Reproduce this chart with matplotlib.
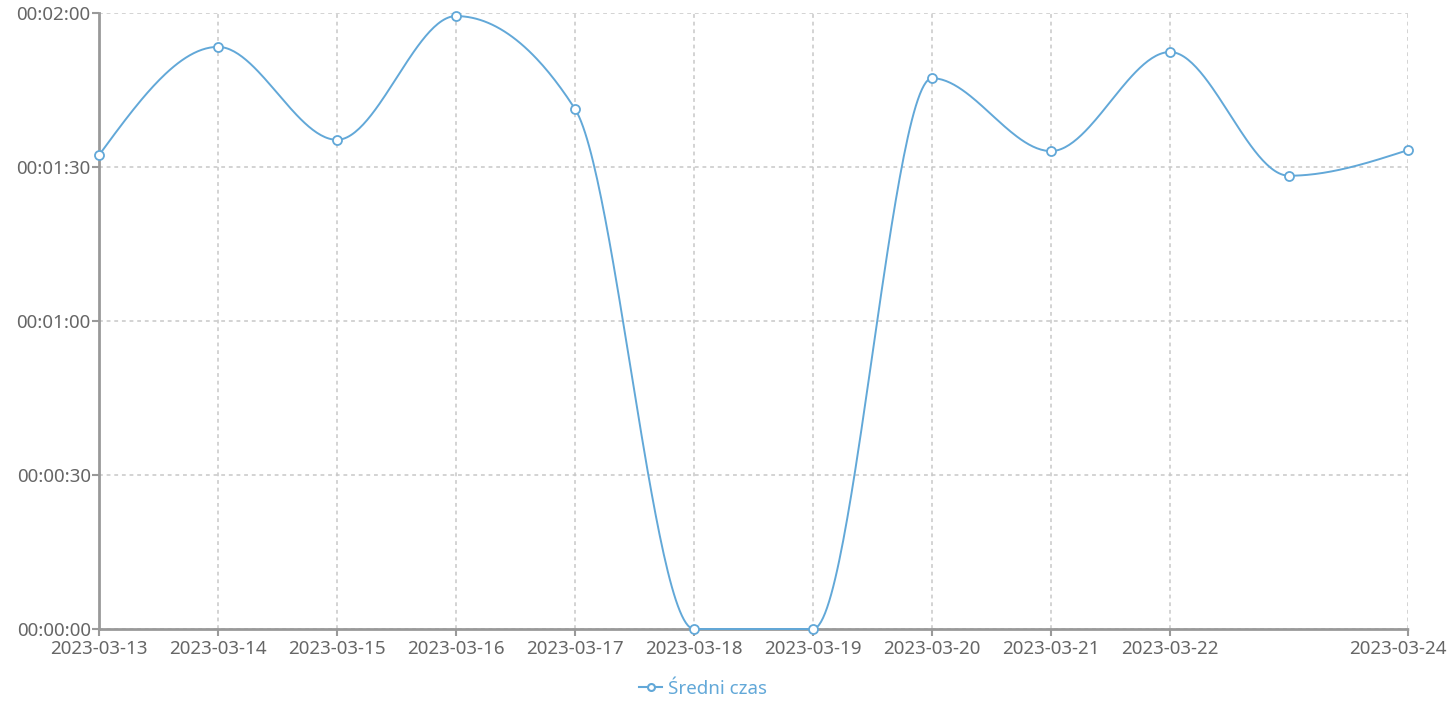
import numpy as np
import matplotlib
matplotlib.use('Agg')
import matplotlib.pyplot as plt
import matplotlib.transforms as mtransforms
from matplotlib.lines import Line2D
from matplotlib.ticker import FuncFormatter

# Dane: średni czas (sekundy) dla każdego dnia
dni = ['2023-03-13', '2023-03-14', '2023-03-15', '2023-03-16', '2023-03-17', '2023-03-18',
       '2023-03-19', '2023-03-20', '2023-03-21', '2023-03-22', '2023-03-23', '2023-03-24']
sredni_czas = [92.3, 113.4, 95.3, 119.4, 101.3, 0, 0, 107.3, 93.1, 112.4, 88.3, 93.3]
# etykiety osi X (bez 03-23, jak w oryginale)
etykiety_x = ['2023-03-13', '2023-03-14', '2023-03-15', '2023-03-16', '2023-03-17', '2023-03-18',
              '2023-03-19', '2023-03-20', '2023-03-21', '2023-03-22', '2023-03-24']

kolor = '#62a8d8'
szary = '#666666'


# Interpolacja monotoniczna (jak curveMonotoneX w d3)
def monotone(x, y, n=60):
    x = np.asarray(x, float)
    y = np.asarray(y, float)
    h = np.diff(x)
    s = np.diff(y) / h
    t = np.zeros(len(x))
    for i in range(1, len(x) - 1):
        p = (s[i - 1] * h[i] + s[i] * h[i - 1]) / (h[i - 1] + h[i])
        t[i] = (np.sign(s[i - 1]) + np.sign(s[i])) * min(abs(s[i - 1]), abs(s[i]), 0.5 * abs(p))
    t[0] = (3 * s[0] - t[1]) / 2
    t[-1] = (3 * s[-1] - t[-2]) / 2
    xs, ys = [], []
    for i in range(len(x) - 1):
        u = np.linspace(0, 1, n)
        h00 = 2 * u**3 - 3 * u**2 + 1
        h10 = u**3 - 2 * u**2 + u
        h01 = -2 * u**3 + 3 * u**2
        h11 = u**3 - u**2
        xs.append(x[i] + u * h[i])
        ys.append(h00 * y[i] + h10 * h[i] * t[i] + h01 * y[i + 1] + h11 * h[i] * t[i + 1])
    return np.concatenate(xs), np.concatenate(ys)


def fmt_czas(v, pos):
    v = int(round(v))
    return '%02d:%02d:%02d' % (v // 3600, (v % 3600) // 60, v % 60)


plt.rcParams['font.family'] = ['Noto Sans', 'DejaVu Sans']

fig = plt.figure(figsize=(14.54, 7.02), dpi=100)
ax = fig.add_axes([99 / 1454, (702 - 629) / 702, (1408 - 99) / 1454, (629 - 13) / 702])

x = np.arange(len(dni))
xs, ys = monotone(x, sredni_czas)
ax.plot(xs, ys, color=kolor, lw=1.4, zorder=3, clip_on=False)
ax.plot(x, sredni_czas, 'o', ms=6.5, mfc='white', mec=kolor, mew=1.3, zorder=4, clip_on=False)

ax.set_xlim(0, len(dni) - 1)
ax.set_ylim(0, 120)
pozycje = [dni.index(d) for d in etykiety_x]
ax.set_xticks(pozycje)
ax.set_xticklabels(etykiety_x)
ax.set_yticks([0, 30, 60, 90, 120])
ax.yaxis.set_major_formatter(FuncFormatter(fmt_czas))

ax.grid(True, color='#c8c8c8', lw=1.1, linestyle=(0, (2.5, 2.5)))
ax.set_axisbelow(True)
for sp in ['top', 'right']:
    ax.spines[sp].set_visible(False)
ax.spines['left'].set_color('#999999')
ax.spines['left'].set_linewidth(2)
ax.spines['bottom'].set_color('#999999')
ax.spines['bottom'].set_linewidth(2)
ax.spines['bottom'].set_linestyle((0, (3, 1)))
ax.tick_params(axis='both', colors='#999999', labelcolor=szary, labelsize=13.5, length=5, width=1.5)
ax.tick_params(axis='x', pad=3)
ax.tick_params(axis='y', pad=1)

# ostatnia etykieta przesunięta w lewo, żeby zmieściła się w obrazku
ostatnia = ax.get_xticklabels()[-1]
ostatnia.set_transform(ostatnia.get_transform() +
                       mtransforms.ScaledTranslation(-10 / 100, 0, fig.dpi_scale_trans))

uchwyt = Line2D([], [], color=kolor, lw=1.5, marker='o', ms=5, mfc='white', mec=kolor, mew=1.5)
fig.legend([uchwyt], ['Średni czas'], loc='center', bbox_to_anchor=(703 / 1454, 1 - 689 / 702),
           frameon=False, fontsize=13.5, labelcolor=kolor, handlelength=1.2, handletextpad=0.3)

fig.savefig('out.png', dpi=100)
